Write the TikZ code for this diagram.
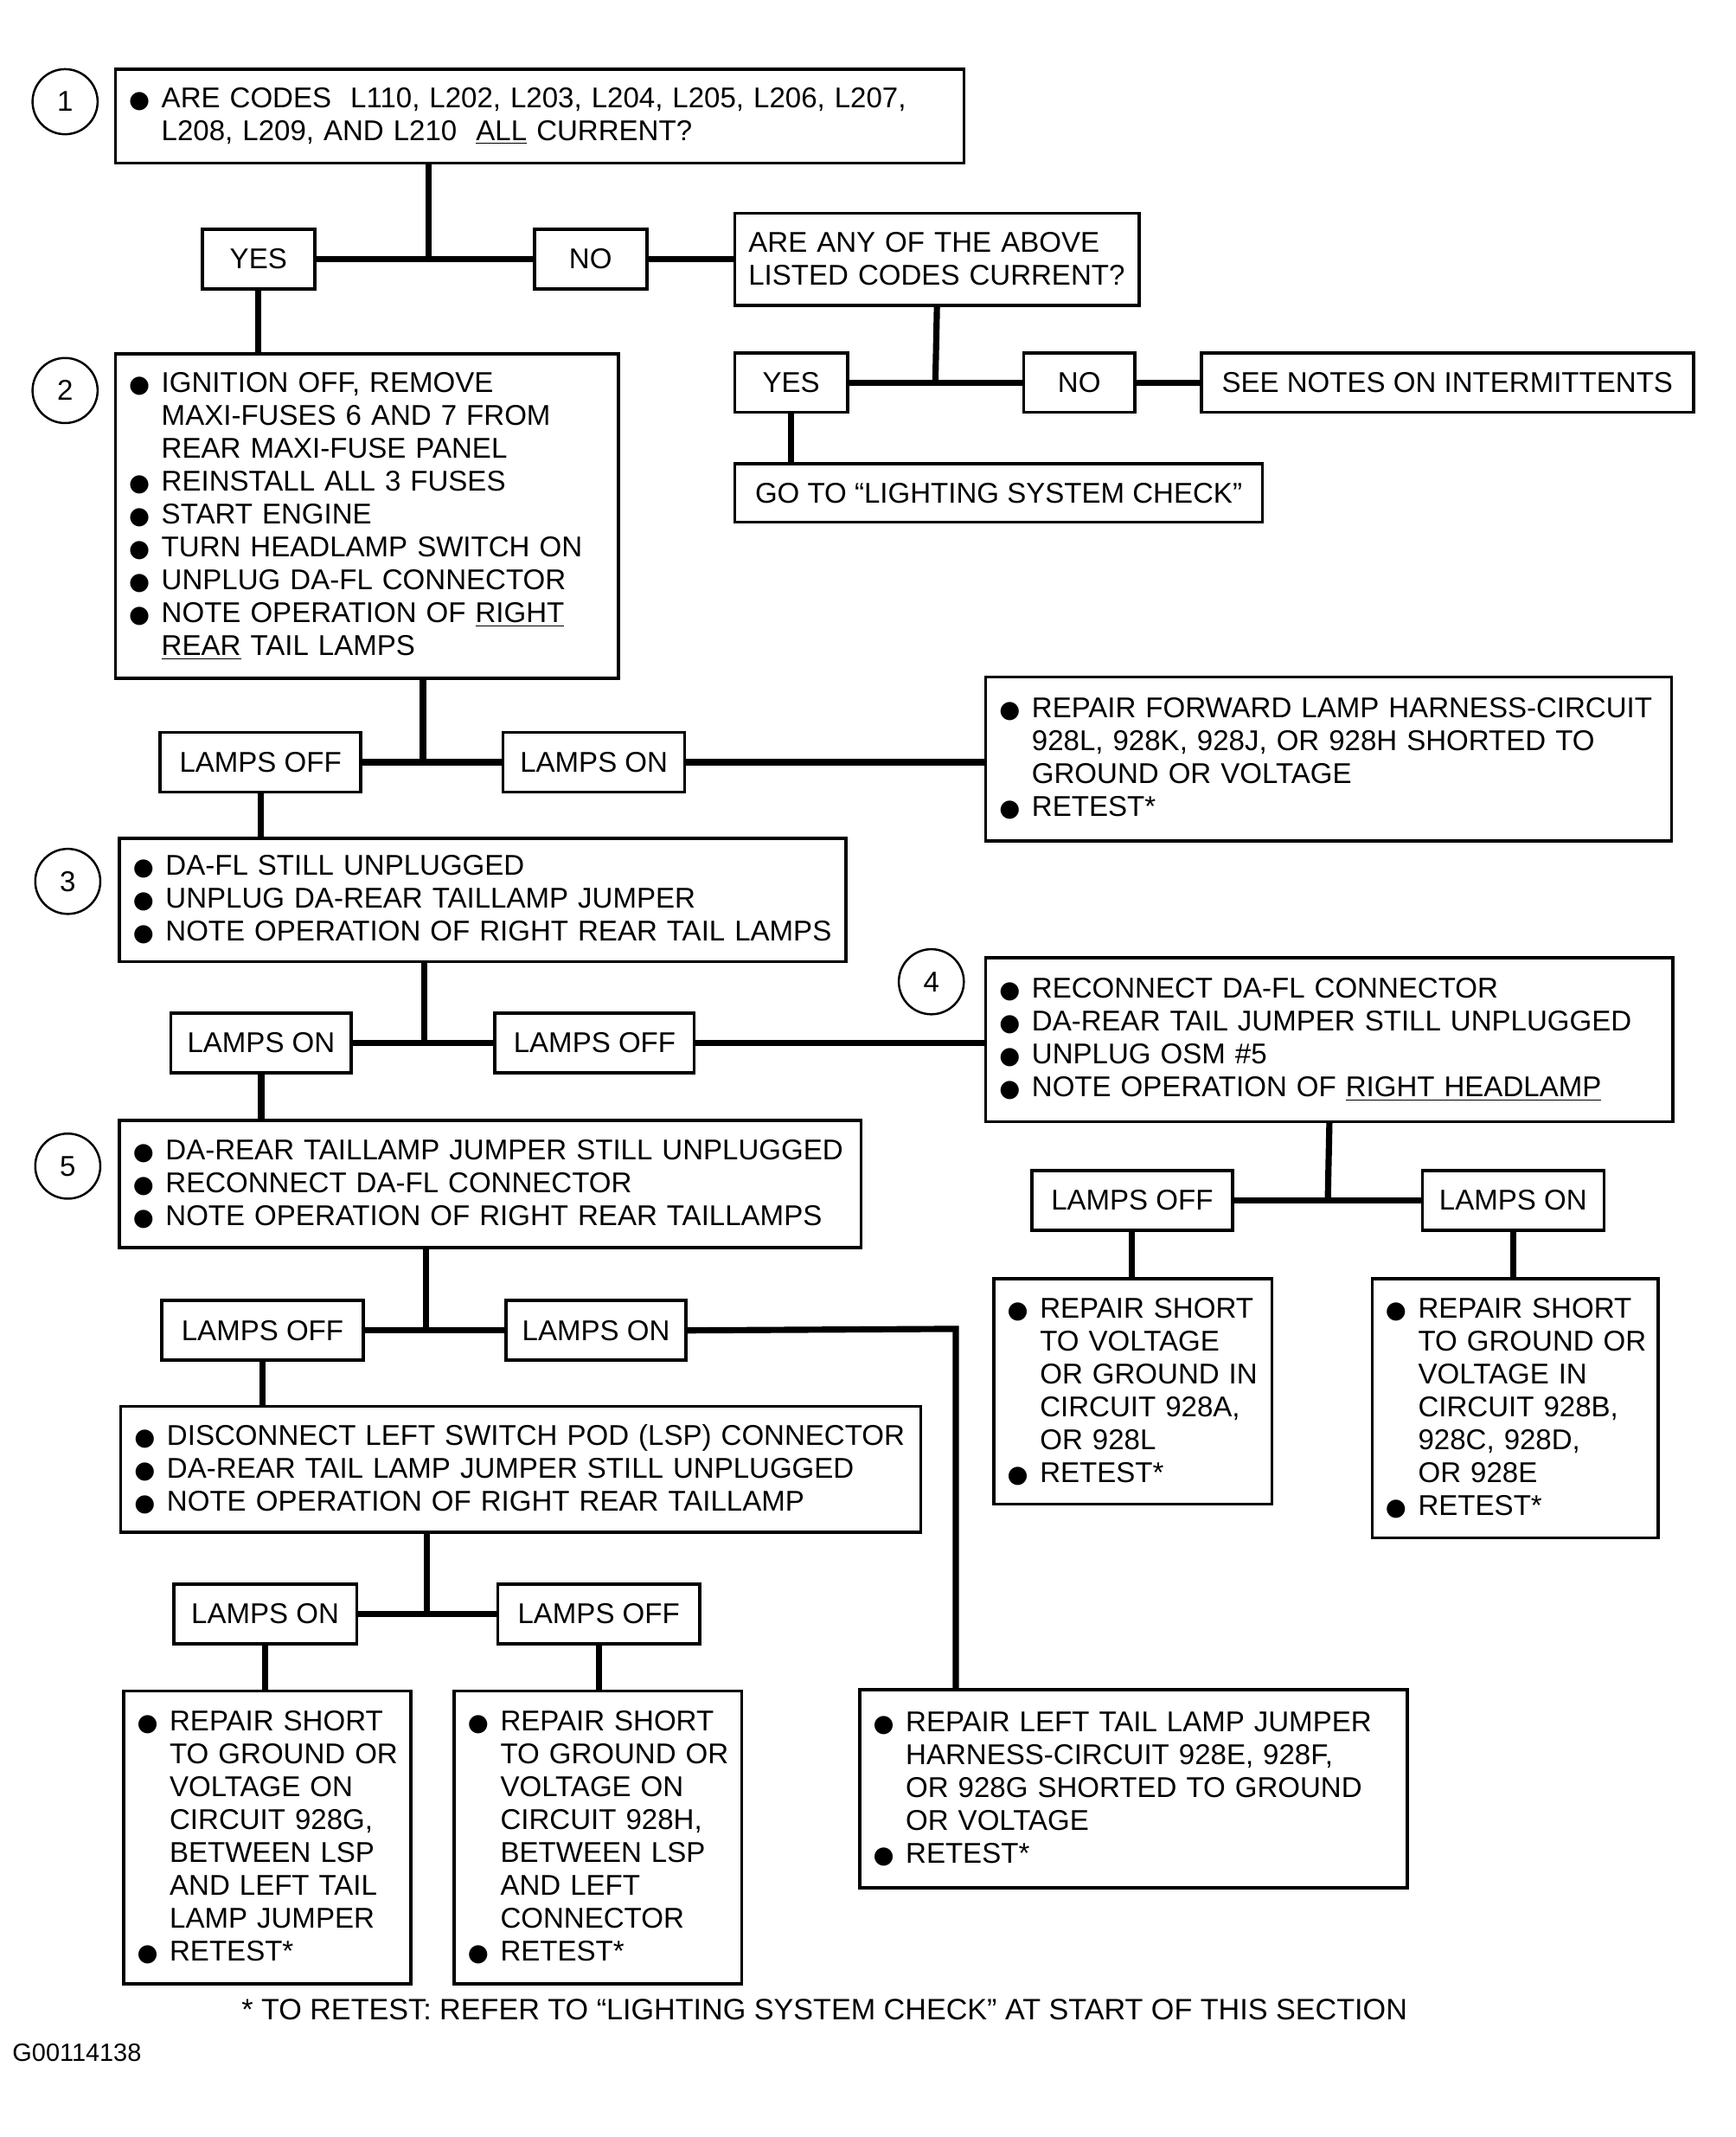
\documentclass[tikz,border=0pt]{standalone}
\usepackage{fontspec}
\setmainfont{Liberation Sans}
\newfontfamily\dotfont{DejaVu Sans}
\newlength\pxu
\setlength\pxu{0.02cm}
% bullet line and indented line
\newcommand\bl[1]{\mbox{\makebox[24\pxu][l]{\dotfont\fontsize{10pt}{10pt}\selectfont ●}#1}}
\newcommand\ind[1]{\mbox{\hspace*{24\pxu}#1}}

\begin{document}
\begin{tikzpicture}[x=0.02cm, y=-0.02cm,
  font=\fontsize{12pt}{13.8pt}\selectfont,
  panel/.style 2 args={draw, line width=1.3pt, anchor=north west, align=left,
    inner xsep=10\pxu, inner ysep=0pt, text width=#1\pxu-20\pxu, minimum height=#2\pxu},
  choice/.style 2 args={draw, line width=1.3pt, anchor=north west, inner sep=0pt,
    minimum width=#1\pxu, minimum height=#2\pxu},
  stepnum/.style={draw, circle, line width=0.9pt, minimum size=48\pxu, inner sep=0pt},
  link/.style={line width=2.6pt}]
\fill[white] (0,0) rectangle (1280,1576);
\useasboundingbox (0,0) rectangle (1280,1576);

% Step numbers
\foreach \n/\x/\y in {1/48/75, 2/48/288, 3/50/650, 4/687/724, 5/50/860}
  \node[stepnum] (c\n) at (\x,\y) {\n};

% Answer boxes
\foreach \name/\x/\y/\w/\txt in {yes1/148/168/83/YES, no1/393/168/83/NO,
    yes2/541/259/83/YES, no2/754/259/82/NO,
    off2/117/539/148/LAMPS OFF, on2/370/539/134/LAMPS ON,
    on3/125/746/133/LAMPS ON, off3/364/746/147/LAMPS OFF,
    off4/760/862/148/LAMPS OFF, on4/1048/862/134/LAMPS ON,
    off5/118/958/149/LAMPS OFF, on5/372/958/133/LAMPS ON,
    on6/127/1167/135/LAMPS ON, off6/366/1167/149/LAMPS OFF}
  \node[choice={\w}{44}] (\name) at (\x,\y) {\txt};

% Question and action panels
\node[panel={626}{69}] (q1) at (84,50)
  {\bl{ARE CODES\ \ L110, L202, L203, L204, L205, L206, L207,}\\
   \ind{L208, L209, AND L210\ \ \underline{ALL} CURRENT?}};
\node[panel={298}{68}] (q2) at (541,156)
  {ARE ANY OF THE ABOVE\\LISTED CODES CURRENT?};
\node[choice={363}{44}] (notes) at (885,259) {SEE NOTES ON INTERMITTENTS};
\node[choice={389}{43}] (goto) at (541,341) {GO TO “LIGHTING SYSTEM CHECK”};
\node[panel={371}{239}] (s2) at (84,260)
  {\bl{IGNITION OFF, REMOVE}\\
   \ind{MAXI-FUSES 6 AND 7 FROM}\\
   \ind{REAR MAXI-FUSE PANEL}\\
   \bl{REINSTALL ALL 3 FUSES}\\
   \bl{START ENGINE}\\
   \bl{TURN HEADLAMP SWITCH ON}\\
   \bl{UNPLUG DA-FL CONNECTOR}\\
   \bl{NOTE OPERATION OF \underline{RIGHT}}\\
   \ind{\underline{REAR} TAIL LAMPS}};
\node[panel={506}{121}] (fwd) at (726,498)
  {\bl{REPAIR FORWARD LAMP HARNESS-CIRCUIT}\\
   \ind{928L, 928K, 928J, OR 928H SHORTED TO}\\
   \ind{GROUND OR VOLTAGE}\\
   \bl{RETEST*}};
\node[panel={536}{91}] (s3) at (87,617)
  {\bl{DA-FL STILL UNPLUGGED}\\
   \bl{UNPLUG DA-REAR TAILLAMP JUMPER}\\
   \bl{NOTE OPERATION OF RIGHT REAR TAIL LAMPS}};
\node[panel={507}{121}] (s4) at (726,705)
  {\bl{RECONNECT DA-FL CONNECTOR}\\
   \bl{DA-REAR TAIL JUMPER STILL UNPLUGGED}\\
   \bl{UNPLUG OSM \#5}\\
   \bl{NOTE OPERATION OF \underline{RIGHT HEADLAMP}}};
\node[panel={205}{166}] (r4a) at (732,942)
  {\bl{REPAIR SHORT}\\ \ind{TO VOLTAGE}\\ \ind{OR GROUND IN}\\
   \ind{CIRCUIT 928A,}\\ \ind{OR 928L}\\ \bl{RETEST*}};
\node[panel={211}{191}] (r4b) at (1011,942)
  {\bl{REPAIR SHORT}\\ \ind{TO GROUND OR}\\ \ind{VOLTAGE IN}\\
   \ind{CIRCUIT 928B,}\\ \ind{928C, 928D,}\\ \ind{OR 928E}\\ \bl{RETEST*}};
\node[panel={547}{94}] (s5) at (87,825)
  {\bl{DA-REAR TAILLAMP JUMPER STILL UNPLUGGED}\\
   \bl{RECONNECT DA-FL CONNECTOR}\\
   \bl{NOTE OPERATION OF RIGHT REAR TAILLAMPS}};
\node[panel={590}{93}] (s6) at (88,1036)
  {\bl{DISCONNECT LEFT SWITCH POD (LSP) CONNECTOR}\\
   \bl{DA-REAR TAIL LAMP JUMPER STILL UNPLUGGED}\\
   \bl{NOTE OPERATION OF RIGHT REAR TAILLAMP}};
\node[panel={404}{146}] (left) at (633,1245)
  {\bl{REPAIR LEFT TAIL LAMP JUMPER}\\
   \ind{HARNESS-CIRCUIT 928E, 928F,}\\
   \ind{OR 928G SHORTED TO GROUND}\\
   \ind{OR VOLTAGE}\\
   \bl{RETEST*}};
\node[panel={212}{216}] (r6a) at (90,1246)
  {\bl{REPAIR SHORT}\\ \ind{TO GROUND OR}\\ \ind{VOLTAGE ON}\\
   \ind{CIRCUIT 928G,}\\ \ind{BETWEEN LSP}\\ \ind{AND LEFT TAIL}\\
   \ind{LAMP JUMPER}\\ \bl{RETEST*}};
\node[panel={212}{216}] (r6b) at (334,1246)
  {\bl{REPAIR SHORT}\\ \ind{TO GROUND OR}\\ \ind{VOLTAGE ON}\\
   \ind{CIRCUIT 928H,}\\ \ind{BETWEEN LSP}\\ \ind{AND LEFT}\\
   \ind{CONNECTOR}\\ \bl{RETEST*}};

% Footnote and figure code
\node[anchor=west, font=\fontsize{12.4pt}{14pt}\selectfont] (foot) at (172,1482)
  {* TO RETEST: REFER TO “LIGHTING SYSTEM CHECK” AT START OF THIS SECTION};
\node[anchor=west, font=\fontsize{10.5pt}{12pt}\selectfont] (code) at (3,1514) {G00114138};

% Branch points
\coordinate (j1) at (316,190);
\coordinate (j2) at (690,281);
\coordinate (j3) at (312,561);
\coordinate (j4) at (313,768);
\coordinate (j5) at (979.5,884);
\coordinate (j6) at (314,980);
\coordinate (k6) at (705,980);
\coordinate (j7) at (315,1189);

% Connect the boxes
\draw[link] (j1 |- q1.south) -- (j1);
\draw[link] (yes1.east) -- (no1.west);
\draw[link] (no1.east) -- (no1.east -| q2.west);
\draw[link] (yes1.south) -- (yes1.south |- s2.north);
\draw[link] (q2.south) -- (j2);
\draw[link] (yes2.east) -- (no2.west);
\draw[link] (no2.east) -- (notes.west);
\draw[link] (yes2.south) -- (yes2.south |- goto.north);
\draw[link] (j3 |- s2.south) -- (j3);
\draw[link] (off2.east) -- (on2.west);
\draw[link] (on2.east) -- (on2.east -| fwd.west);
\draw[link] (off2.south) -- (off2.south |- s3.north);
\draw[link] (j4 |- s3.south) -- (j4);
\draw[link] (on3.east) -- (off3.west);
\draw[link] (off3.east) -- (off3.east -| s4.west);
\draw[link] (s4.south) -- (j5);
\draw[link] (off4.east) -- (on4.west);
\draw[link] (off4.south) -- (off4.south |- r4a.north);
\draw[link] (on4.south) -- (on4.south |- r4b.north);
\draw[link] (on3.south) -- (on3.south |- s5.north);
\draw[link] (j6 |- s5.south) -- (j6);
\draw[link] (off5.east) -- (on5.west);
\draw[link] (on5.east) -- (k6) -- (k6 |- left.north);
\draw[link] (off5.south) -- (off5.south |- s6.north);
\draw[link] (j7 |- s6.south) -- (j7);
\draw[link] (on6.east) -- (off6.west);
\draw[link] (on6.south) -- (on6.south |- r6a.north);
\draw[link] (off6.south) -- (off6.south |- r6b.north);
\end{tikzpicture}
\end{document}
